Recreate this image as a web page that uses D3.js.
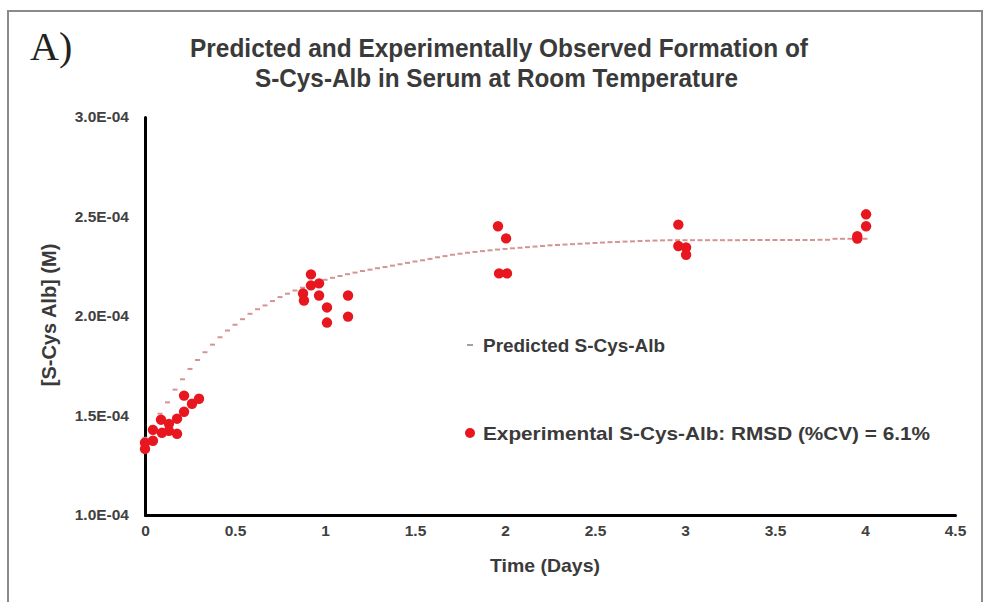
<!DOCTYPE html>
<html>
<head>
<meta charset="utf-8">
<script src="https://cdn.jsdelivr.net/npm/d3@7"></script>
<style>
  body { margin: 0; background: #fff; }
  svg { display: block; }
  text { font-family: "Liberation Sans", Arial, sans-serif; font-weight: bold; fill: #3a3a3a; }
  .axis path { stroke: #000; stroke-width: 3; stroke-linecap: round; }
</style>
</head>
<body>
<svg width="984" height="602"></svg>
<script>
// values in units of 1e-4 M
const xTicks = [0, 0.5, 1, 1.5, 2, 2.5, 3, 3.5, 4, 4.5];
const yTicks = [1.0, 1.5, 2.0, 2.5, 3.0];

// experimental S-Cys-Alb
const expTime = [0, 0, 0.044, 0.044, 0.089, 0.094, 0.133, 0.133, 0.178, 0.178, 0.217, 0.217, 0.261, 0.3,
  0.878, 0.883, 0.922, 0.922, 0.967, 0.967, 1.011, 1.011, 1.128, 1.128,
  1.961, 2.006, 1.967, 2.011,
  2.963, 2.963, 3.006, 3.006,
  4.006, 4.006, 3.957, 3.957];
const expValue = [1.332, 1.363, 1.373, 1.428, 1.479, 1.413, 1.458, 1.423, 1.484, 1.408, 1.519, 1.600, 1.559, 1.584,
  2.113, 2.078, 2.209, 2.154, 2.164, 2.103, 2.043, 1.967, 2.103, 1.997,
  2.451, 2.390, 2.214, 2.214,
  2.459, 2.352, 2.344, 2.308,
  2.511, 2.451, 2.401, 2.389];

// predicted S-Cys-Alb, one marker per hour (0..96 h)
const predValue = [
  1.388, 1.448, 1.509, 1.566, 1.630, 1.682, 1.734, 1.779, 1.818, 1.856,
  1.893, 1.927, 1.956, 1.984, 2.011, 2.034, 2.053, 2.075, 2.095, 2.112,
  2.128, 2.142, 2.156, 2.169, 2.182, 2.192, 2.201, 2.210, 2.218, 2.226,
  2.233, 2.240, 2.246, 2.253, 2.260, 2.267, 2.274, 2.280, 2.287, 2.295,
  2.301, 2.308, 2.313, 2.318, 2.322, 2.326, 2.330, 2.334, 2.337, 2.340,
  2.343, 2.346, 2.349, 2.352, 2.355, 2.357, 2.359, 2.361, 2.363, 2.365,
  2.367, 2.369, 2.371, 2.372, 2.374, 2.375, 2.377, 2.378, 2.379, 2.380,
  2.381, 2.381, 2.381, 2.381, 2.381, 2.381, 2.381, 2.381, 2.381, 2.381,
  2.382, 2.382, 2.382, 2.382, 2.382, 2.382, 2.382, 2.382, 2.382, 2.382,
  2.383, 2.383, 2.388, 2.388, 2.388, 2.388, 2.388];
const predTime = d3.range(predValue.length).map(h => h / 24);

const red = "#e8161e";
const dashCol = "#d49494";

const svg = d3.select("svg");

// frame
svg.append("rect")
  .attr("x", 8).attr("y", 11).attr("width", 974).attr("height", 600)
  .attr("fill", "none").attr("stroke", "#8a8a8a").attr("stroke-width", 2);

const x = d3.scaleLinear().domain([0, 4.5]).range([145, 955]);
const y = d3.scaleLinear().domain([1, 3]).range([515, 117]);

const xAxis = d3.axisBottom(x)
  .tickValues(xTicks)
  .tickSize(0)
  .tickPadding(10)
  .tickFormat(d => String(d));

const yAxis = d3.axisLeft(y)
  .tickValues(yTicks)
  .tickSize(0)
  .tickPadding(16)
  .tickFormat(d => d.toFixed(1) + "E-04");

const gX = svg.append("g")
  .attr("class", "axis")
  .attr("transform", `translate(0,${y(1)})`)
  .call(xAxis);

const gY = svg.append("g")
  .attr("class", "axis")
  .attr("transform", `translate(${x(0)},0)`)
  .call(yAxis);

[gX, gY].forEach(g => g.selectAll("text")
  .style("font-family", "'Liberation Sans', Arial, sans-serif")
  .style("font-weight", "bold")
  .style("font-size", "15.5px")
  .style("fill", "#404040"));

// predicted markers (short dashes)
svg.append("g")
  .selectAll("line")
  .data(predValue)
  .join("line")
  .attr("x1", (d, i) => x(predTime[i]) - 2.5)
  .attr("x2", (d, i) => x(predTime[i]) + 2.5)
  .attr("y1", d => y(d))
  .attr("y2", d => y(d))
  .attr("stroke", dashCol)
  .attr("stroke-width", 2);

// experimental points
svg.append("g")
  .selectAll("circle")
  .data(expValue)
  .join("circle")
  .attr("cx", (d, i) => x(expTime[i]))
  .attr("cy", d => y(d))
  .attr("r", 5.2)
  .attr("fill", red);

// titles
svg.append("text")
  .attr("x", 30).attr("y", 60)
  .style("font-family", "'Liberation Serif', 'DejaVu Serif', serif")
  .style("font-weight", "normal")
  .style("font-size", "40px")
  .style("fill", "#222")
  .text("A)");

svg.append("text")
  .attr("x", 190).attr("y", 57)
  .attr("textLength", 618).attr("lengthAdjust", "spacingAndGlyphs")
  .style("font-size", "25px")
  .text("Predicted and Experimentally Observed Formation of");

svg.append("text")
  .attr("x", 255).attr("y", 87)
  .attr("textLength", 483).attr("lengthAdjust", "spacingAndGlyphs")
  .style("font-size", "25px")
  .text("S-Cys-Alb in Serum at Room Temperature");

svg.append("text")
  .attr("x", 545).attr("y", 572)
  .attr("text-anchor", "middle")
  .attr("textLength", 110).attr("lengthAdjust", "spacingAndGlyphs")
  .style("font-size", "19px")
  .text("Time (Days)");

svg.append("text")
  .attr("transform", "translate(56,315) rotate(-90)")
  .attr("text-anchor", "middle")
  .style("font-size", "20px")
  .text("[S-Cys Alb] (M)");

// legend
const legend = svg.append("g");
legend.append("line")
  .attr("x1", 467).attr("x2", 473).attr("y1", 345).attr("y2", 345)
  .attr("stroke", "#a0a0a0").attr("stroke-width", 2);
legend.append("text")
  .attr("x", 483).attr("y", 352)
  .attr("textLength", 182).attr("lengthAdjust", "spacingAndGlyphs")
  .style("font-size", "19px")
  .text("Predicted S-Cys-Alb");
legend.append("circle")
  .attr("cx", 470).attr("cy", 433).attr("r", 5).attr("fill", red);
legend.append("text")
  .attr("x", 483).attr("y", 440)
  .attr("textLength", 447).attr("lengthAdjust", "spacingAndGlyphs")
  .style("font-size", "19px")
  .text("Experimental S-Cys-Alb: RMSD (%CV) = 6.1%");
</script>
</body>
</html>
